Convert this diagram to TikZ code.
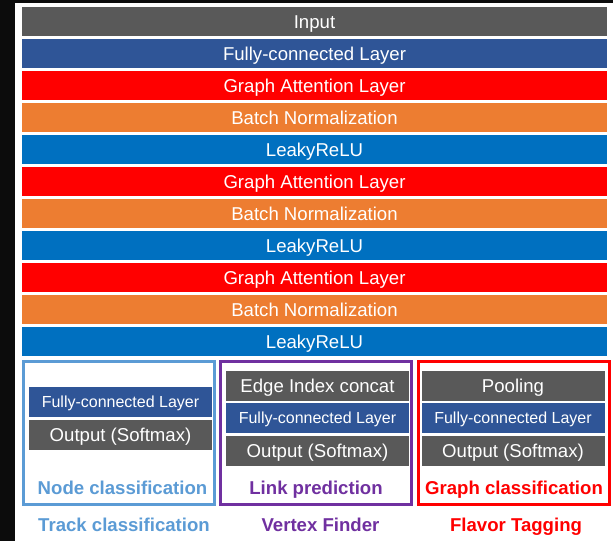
\documentclass[tikz,border=0pt]{standalone}
\usepackage{fontspec}
\setmainfont{Liberation Sans}
\definecolor{cGray}{HTML}{595959}
\definecolor{cNavy}{HTML}{2F5597}
\definecolor{cRed}{HTML}{FF0000}
\definecolor{cOrange}{HTML}{ED7D31}
\definecolor{cBlue}{HTML}{0070C0}
\definecolor{cSky}{HTML}{5B9BD5}
\definecolor{cPurple}{HTML}{7030A0}
\definecolor{cDark}{HTML}{0C0C0C}
\tikzset{
  layer/.style={fill=#1, inner sep=0pt, minimum width=585pt, minimum height=29pt,
    text=white, font=\fontsize{18.6}{20}\selectfont, text height=13.3pt, text depth=0pt},
  head/.style={fill=#1, inner sep=0pt, minimum width=183pt, minimum height=30pt,
    text=white, font=\fontsize{18.6}{20}\selectfont, text height=13.3pt, text depth=0pt},
  headsmall/.style={head=#1, font=\fontsize{16}{18}\selectfont, text height=11.5pt},
  taskbox/.style={draw=#1, line width=3pt, inner sep=0pt, minimum width=191pt, minimum height=143pt},
  tasklabel/.style={text=#1, inner sep=0pt, font=\bfseries\fontsize{18.6}{20}\selectfont,
    text height=13.3pt, text depth=0pt},
}
\begin{document}
\begin{tikzpicture}[x=1pt, y=-1pt]
  % page frame: dark strip on the left and at the top
  \fill[cDark] (0,0) rectangle (613,541);
  \fill[white] (15,2.5) rectangle (613,541);
  \useasboundingbox (0,0) rectangle (613,541);

  % shared backbone
  \node[layer=cGray]   (l0)  at (314.5, 21.5) {Input};
  \node[layer=cNavy]   (l1)  at (314.5, 53.5) {Fully-connected Layer};
  \node[layer=cRed]    (l2)  at (314.5, 85.5) {Graph Attention Layer};
  \node[layer=cOrange] (l3)  at (314.5,117.5) {Batch Normalization};
  \node[layer=cBlue]   (l4)  at (314.5,149.5) {LeakyReLU};
  \node[layer=cRed]    (l5)  at (314.5,181.5) {Graph Attention Layer};
  \node[layer=cOrange] (l6)  at (314.5,213.5) {Batch Normalization};
  \node[layer=cBlue]   (l7)  at (314.5,245.5) {LeakyReLU};
  \node[layer=cRed]    (l8)  at (314.5,277.5) {Graph Attention Layer};
  \node[layer=cOrange] (l9)  at (314.5,309.5) {Batch Normalization};
  \node[layer=cBlue]   (l10) at (314.5,341.5) {LeakyReLU};

  % task boxes
  \node[taskbox=cSky]    (boxN) at (118.5,433) {};
  \node[taskbox=cPurple] (boxL) at (316,433) {};
  \node[taskbox=cRed]    (boxG) at (514,433) {};

  % node classification head
  \node[headsmall=cNavy] (nFC)  at (120.5,401.5) {Fully-connected Layer};
  \node[head=cGray]      (nOut) at (120.5,435) {Output (Softmax)};
  \node[tasklabel=cSky]  (nLab) at (122.5,487.5) {Node classification};

  % link prediction head
  \node[head=cGray]      (eCat) at (317.5,385.5) {Edge Index concat};
  \node[headsmall=cNavy] (eFC)  at (317.5,417.5) {Fully-connected Layer};
  \node[head=cGray]      (eOut) at (317.5,451) {Output (Softmax)};
  \node[tasklabel=cPurple] (eLab) at (316,487.5) {Link prediction};

  % graph classification head
  \node[head=cGray]      (gPool) at (513,385.5) {Pooling};
  \node[headsmall=cNavy] (gFC)   at (513,417.5) {Fully-connected Layer};
  \node[head=cGray]      (gOut)  at (513,451) {Output (Softmax)};
  \node[tasklabel=cRed]  (gLab)  at (514,487.5) {Graph classification};

  % application names below the boxes
  \node[tasklabel=cSky]    (tTrack)  at (124,524.5) {Track classification};
  \node[tasklabel=cPurple] (tVertex) at (320.5,524.5) {Vertex Finder};
  \node[tasklabel=cRed]    (tFlavor) at (516,524.5) {Flavor Tagging};
\end{tikzpicture}
\end{document}
